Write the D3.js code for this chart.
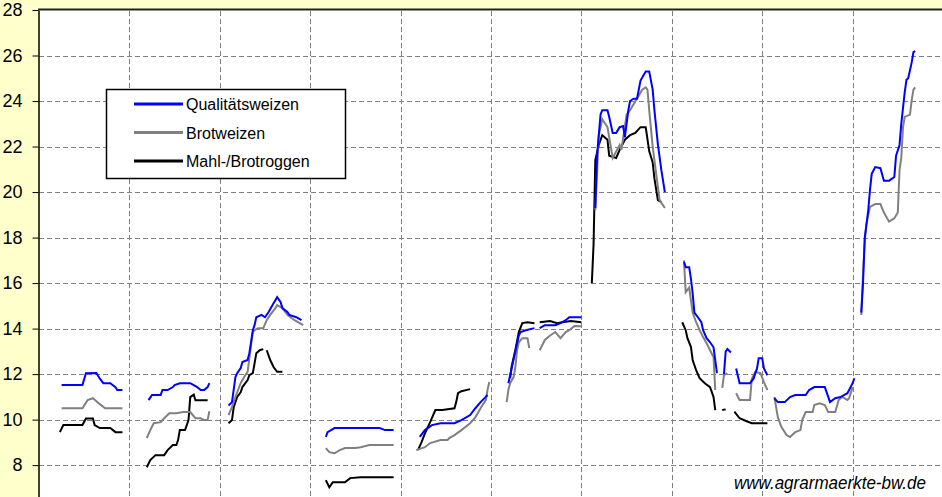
<!DOCTYPE html>
<html>
<head>
<meta charset="utf-8">
<script src="https://cdnjs.cloudflare.com/ajax/libs/d3/7.8.5/d3.min.js"></script>
<title>Getreidepreise</title>
<style>
    html, body {
        margin: 0;
        padding: 0;
        background-color: #ffffcc;
    }
    svg {
        display: block;
        font-family: Arial, "Liberation Sans", sans-serif;
    }
</style>
</head>
<body>
<svg width="942" height="497" class="svg_canvas"></svg>

<script>
    // x = Kalenderwoche ab Beginn (52 je Jahr), y = Preis
    var seriesNames = ["Qualitätsweizen", "Brotweizen", "Mahl-/Brotroggen"];
    var seriesColors = ["#0000ff", "#808080", "#000000"];
    var yTicks = [8, 10, 12, 14, 16, 18, 20, 22, 24, 26, 28];
    var yearWeeks = [52, 104, 156, 208, 260, 312, 364, 416, 468];

    var qualitaetsweizen = [
        [[13,11.52],[25,11.52],[27,12.04],[33,12.05],[35,11.8],[37,11.6],[41,11.6],[44,11.43],[45,11.3],[48,11.3]],
        [[63,10.86],[65,11.08],[70,11.08],[71,11.3],[74,11.3],[77,11.43],[78,11.52],[81,11.6],[87,11.6],[89,11.52],[91,11.43],[93,11.3],[95,11.3],[97,11.43],[98,11.6]],
        [[109,10.62],[111,10.77],[113,11.87],[114,12.04],[116,12.26],[117,12.53],[120,12.62],[121,12.92],[123,13.93],[124,14.15],[125,14.5],[128,14.6],[130,14.5],[132,14.72],[135,15.12],[137,15.38],[139,15.16],[140,14.9],[143,14.72],[144,14.6],[148,14.5],[151,14.37]],
        [[165,9.24],[166,9.45],[170,9.63],[196,9.63],[199,9.54],[204,9.54]],
        [[219,9.24],[222,9.54],[226,9.76],[231,9.84],[239,9.84],[243,9.98],[248,10.2],[251,10.5],[254,10.77],[257,11.0],[258,11.08]],
        [[270,11.6],[272,12.3],[274,13.0],[276,13.7],[277,13.85],[280,13.93],[285,14.02]],
        [[288,14.02],[291,14.15],[297,14.15],[300,14.24],[303,14.37],[305,14.5],[312,14.5]],
        [[320,19.3],[321,21.6],[323,23.4],[324,23.6],[327,23.6],[328,23.3],[330,22.6],[332,22.6],[334,22.85],[336,22.9],[337,22.4],[339,23.6],[340,24.0],[342,24.1],[344,24.1],[346,24.9],[349,25.3],[351,25.3],[353,24.5],[354,23.6],[356,22.1],[358,20.96],[360,20.0]],
        [[371,16.93],[372,16.7],[374,16.7],[375,16.2],[376,15.55],[377,14.7],[379,14.5],[381,14.28],[382,13.93],[384,13.58],[386,13.4],[388,13.18],[389,12.6],[390,12.04]],
        [[394,12.0],[395,13.0],[396,13.1],[398,12.95]],
        [[401,12.25],[403,11.6],[409,11.6],[411,11.8],[413,12.25],[414,12.7],[416,12.7],[417,12.25],[419,11.95]],
        [[423,10.94],[425,10.77],[429,10.77],[432,10.99],[435,11.08],[441,11.08],[443,11.3],[446,11.43],[452,11.43],[454,11.0],[455,10.77],[458,10.94],[461,10.99],[465,11.16],[466,11.3],[468,11.6],[469,11.82]],
        [[473,14.7],[474,16.0],[475,18.0],[477,19.2],[478,20.1],[479,20.8],[481,21.1],[484,21.05],[486,20.5],[489,20.5],[492,20.66],[493,21.6],[495,22.07],[496,23.0],[498,24.4],[499,24.93],[500,25.0],[502,25.7],[503,26.15],[504,26.2]]
    ];

    var brotweizen = [
        [[13,10.5],[25,10.5],[28,10.86],[31,10.94],[35,10.68],[38,10.5],[48,10.5]],
        [[62,9.19],[64,9.54],[66,9.84],[70,9.89],[72,10.06],[75,10.28],[79,10.28],[83,10.33],[87,10.33],[90,10.06],[93,10.06],[95,9.98],[97,9.98],[98,10.37]],
        [[109,10.2],[111,10.55],[113,11.0],[116,11.6],[118,11.87],[120,12.1],[121,12.7],[123,13.85],[124,13.93],[126,14.02],[129,14.02],[131,14.37],[133,14.6],[136,14.9],[137,15.03],[140,14.9],[143,14.6],[147,14.37],[152,14.15]],
        [[165,8.75],[167,8.57],[170,8.52],[173,8.66],[176,8.75],[182,8.75],[185,8.79],[190,8.88],[204,8.88]],
        [[217,8.66],[222,8.79],[225,8.97],[231,9.1],[235,9.1],[236,9.19],[239,9.32],[243,9.54],[248,9.84],[251,10.1],[254,10.5],[257,10.86],[258,11.3],[259,11.65]],
        [[269,10.77],[270,11.3],[271,11.6],[273,11.87],[274,12.3],[275,13.05],[276,13.4],[278,13.58],[281,13.58],[282,13.14]],
        [[288,13.05],[291,13.5],[294,13.7],[297,13.85],[300,13.58],[303,13.85],[305,13.93],[308,14.11],[312,14.1]],
        [[320,19.2],[322,22.5],[324,23.2],[327,22.85],[330,21.5],[334,22.07],[335,21.85],[338,23.4],[340,23.6],[347,24.5],[349,24.6],[350,24.5],[351,23.6],[353,22.0],[355,20.8],[357,19.65],[360,19.3]],
        [[371,17.0],[372,15.6],[374,15.8],[376,14.7],[378,14.28],[380,13.93],[382,13.63],[384,13.36],[386,13.05],[388,12.75],[389,11.3]],
        [[393,11.4],[394,11.95],[396,12.04]],
        [[401,11.16],[403,10.86],[409,10.86],[410,11.8],[412,12.1],[415,12.04],[417,11.65],[419,11.3]],
        [[423,11.0],[425,10.1],[427,9.68],[430,9.32],[432,9.24],[435,9.45],[438,9.54],[439,9.98],[441,10.33],[445,10.33],[446,10.64],[449,10.72],[452,10.64],[454,10.33],[458,10.33],[460,10.86],[462,11.0],[465,10.86],[466,10.94],[468,11.43]],
        [[473,14.6],[474,16.4],[475,17.9],[476,18.6],[478,19.35],[481,19.47],[484,19.47],[486,19.1],[489,18.7],[492,18.85],[494,19.1],[495,20.97],[496,21.5],[497,22.85],[498,23.3],[501,23.4],[502,24.04],[503,24.5],[504,24.6]]
    ];

    var roggen = [
        [[12,9.45],[14,9.76],[25,9.76],[27,10.05],[31,10.05],[32,9.76],[35,9.63],[41,9.63],[44,9.45],[48,9.45]],
        [[62,7.91],[64,8.22],[67,8.44],[72,8.44],[74,8.66],[77,8.88],[79,8.88],[80,9.1],[81,9.54],[84,9.54],[86,9.98],[87,10.99],[89,11.1],[90,10.85],[97,10.85]],
        [[109,9.84],[111,9.98],[112,10.55],[114,11.0],[116,11.2],[117,11.43],[120,11.74],[121,11.95],[123,12.04],[124,12.47],[125,12.92],[127,13.05],[129,13.1]],
        [[131,13.05],[133,12.62],[135,12.3],[137,12.1],[140,12.1]],
        [[165,7.34],[167,7.03],[169,7.25],[176,7.25],[179,7.43],[185,7.47],[204,7.47]],
        [[218,8.66],[220,9.0],[222,9.4],[225,9.89],[228,10.42],[232,10.42],[239,10.5],[240,10.77],[241,11.16],[243,11.25],[248,11.34]],
        [[271,11.82],[272,12.38],[274,13.05],[276,13.85],[278,14.24],[281,14.28],[285,14.24]],
        [[288,14.28],[294,14.33],[298,14.24],[301,14.28],[306,14.33],[312,14.28]],
        [[318,16.0],[319,17.7],[320,21.4],[322,22.07],[324,22.5],[327,22.3],[328,21.6],[332,21.5],[334,21.85],[337,22.3],[340,22.5],[343,22.6],[346,22.85],[349,22.85],[351,21.8],[353,21.3],[354,20.6],[356,19.65],[358,19.56]],
        [[370,14.28],[372,13.93],[373,13.58],[375,13.2],[376,12.62],[378,12.17],[380,11.82],[383,11.6],[386,11.43],[388,11.0],[389,10.42]],
        [[393,10.42],[395,10.45]],
        [[400,10.35],[403,10.06],[407,9.93],[410,9.84],[419,9.84]]
    ];

    var allSeries = [qualitaetsweizen, brotweizen, roggen];

    var svg = d3.select("svg");

    var x = d3.scaleLinear().domain([0, 520]).range([39, 943]);
    var y = d3.scaleLinear().domain([6.6, 28]).range([497, 10]);

    // Zeichenfläche
    svg.append("rect")
        .attr("x", 39)
        .attr("y", 10)
        .attr("width", 910)
        .attr("height", 500)
        .attr("fill", "#ffffff");

    // Gitternetz
    svg.append("g")
        .selectAll("line")
        .data(yTicks.filter(function(d){ return d < 28; }))
        .enter()
        .append("line")
        .attr("x1", 39)
        .attr("x2", 942)
        .attr("y1", function(d){ return Math.round(y(d)) + 0.5; })
        .attr("y2", function(d){ return Math.round(y(d)) + 0.5; })
        .attr("stroke", "#808080")
        .attr("stroke-dasharray", "5,3");

    svg.append("g")
        .selectAll("line")
        .data(yearWeeks)
        .enter()
        .append("line")
        .attr("x1", function(d){ return Math.round(x(d)) + 0.5; })
        .attr("x2", function(d){ return Math.round(x(d)) + 0.5; })
        .attr("y1", 11)
        .attr("y2", 497)
        .attr("stroke", "#808080")
        .attr("stroke-dasharray", "5,3");

    // Linien
    var line = d3.line()
        .x(function(d){ return x(d[0]); })
        .y(function(d){ return y(d[1]); });

    allSeries.slice().reverse().forEach(function(segs, i){
        var idx = allSeries.length - 1 - i;
        svg.append("g")
            .selectAll("path")
            .data(segs)
            .enter()
            .append("path")
            .attr("d", line)
            .attr("fill", "none")
            .attr("stroke", seriesColors[idx])
            .attr("stroke-width", 2);
    });

    // Achse
    var axis = svg.append("g")
        .attr("transform", "translate(38.5,0)")
        .call(d3.axisLeft(y).tickValues(yTicks).tickSize(6).tickSizeOuter(0).tickPadding(10));
    axis.select(".domain").attr("stroke", "#000").attr("stroke-width", 1.5);
    axis.selectAll(".tick line").attr("stroke", "#000");
    axis.selectAll("text")
        .attr("font-size", "18px")
        .attr("font-family", "Arial, 'Liberation Sans', sans-serif")
        .attr("fill", "#000");

    svg.append("line")
        .attr("x1", 38)
        .attr("x2", 942)
        .attr("y1", 9.5)
        .attr("y2", 9.5)
        .attr("stroke", "#222")
        .attr("stroke-width", 2);

    // Legende
    var legend = svg.append("g").attr("transform", "translate(106,89)");
    legend.append("rect")
        .attr("x", 0.5)
        .attr("y", 0.5)
        .attr("width", 239)
        .attr("height", 89)
        .attr("fill", "#ffffff")
        .attr("stroke", "#000")
        .attr("stroke-width", 1.5);

    var item = legend.selectAll(".item")
        .data(seriesNames)
        .enter()
        .append("g")
        .attr("class", "item")
        .attr("transform", function(d, i){ return "translate(0," + (15 + i * 28.5) + ")"; });

    item.append("line")
        .attr("x1", 28)
        .attr("x2", 77)
        .attr("stroke", function(d, i){ return seriesColors[i]; })
        .attr("stroke-width", 3);

    item.append("text")
        .attr("x", 80)
        .attr("y", 6)
        .attr("font-size", "16px")
        .text(function(d){ return d; });

    // Quelle
    svg.append("text")
        .attr("x", 734)
        .attr("y", 489)
        .attr("font-size", "18px")
        .attr("font-style", "italic")
        .attr("textLength", 192)
        .attr("lengthAdjust", "spacingAndGlyphs")
        .text("www.agrarmaerkte-bw.de");
</script>
</body>
</html>
